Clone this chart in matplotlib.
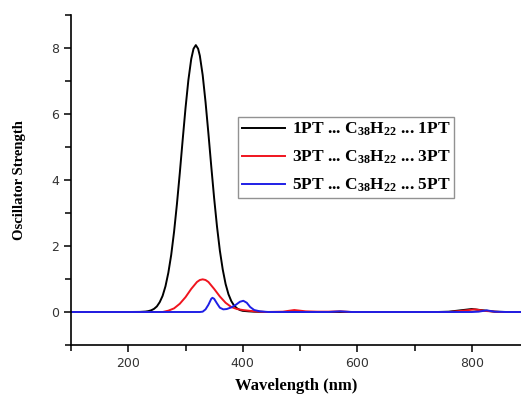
import matplotlib
matplotlib.use("Agg")
import matplotlib.pyplot as plt
from matplotlib.ticker import MultipleLocator

plt.rcParams["mathtext.default"] = "regular"

# wavelength (nm) / oscillator strength
wl_1pt = [100, 200, 220, 230, 235, 240, 245, 250, 255, 260, 265, 270, 275, 280,
          285, 290, 295, 300, 305, 310, 314, 318, 322, 325, 330, 335, 340, 345,
          350, 355, 360, 365, 370, 375, 380, 385, 390, 395, 400, 410, 420, 440,
          740, 760, 780, 800, 820, 840, 860, 900]
os_1pt = [0, 0, 0.003, 0.013, 0.026, 0.051, 0.095, 0.17, 0.30, 0.49, 0.78, 1.19,
          1.73, 2.43, 3.27, 4.21, 5.21, 6.18, 7.03, 7.67, 7.98, 8.09, 7.98, 7.77,
          7.18, 6.36, 5.41, 4.41, 3.45, 2.59, 1.86, 1.29, 0.85, 0.54, 0.33, 0.19,
          0.11, 0.06, 0.035, 0.02, 0.01, 0, 0, 0.01, 0.05, 0.09, 0.05, 0.01, 0, 0]

wl_3pt = [100, 260, 270, 280, 290, 300, 310, 320, 325, 330, 335, 340, 350, 360,
          370, 380, 390, 400, 410, 420, 440, 470, 490, 510, 530, 550, 570, 590,
          760, 780, 805, 825, 850, 900]
os_3pt = [0, 0, 0.04, 0.11, 0.25, 0.45, 0.70, 0.91, 0.97, 0.99, 0.97, 0.91,
          0.70, 0.47, 0.28, 0.15, 0.09, 0.06, 0.04, 0.02, 0, 0.01, 0.06, 0.02,
          0.01, 0.01, 0.02, 0, 0, 0.03, 0.08, 0.03, 0, 0]

wl_5pt = [100, 325, 330, 335, 340, 345, 347, 350, 355, 360, 366, 372, 380, 388,
          395, 401, 407, 413, 420, 430, 445, 550, 570, 590, 800, 812, 826, 840,
          860, 900]
os_5pt = [0, 0, 0.01, 0.08, 0.22, 0.40, 0.43, 0.40, 0.26, 0.13, 0.08, 0.09,
          0.14, 0.22, 0.31, 0.34, 0.28, 0.15, 0.06, 0.02, 0, 0, 0.02, 0, 0,
          0.01, 0.05, 0.01, 0, 0]

labels = [r"1PT ... C$_{38}$H$_{22}$ ... 1PT",
          r"3PT ... C$_{38}$H$_{22}$ ... 3PT",
          r"5PT ... C$_{38}$H$_{22}$ ... 5PT"]

fig = plt.figure(figsize=(5.21, 3.97), dpi=100)
ax = fig.add_axes([0.1363, 0.131, 0.8637, 0.831])

ax.plot(wl_1pt, os_1pt, color="black", lw=1.4, label=labels[0])
ax.plot(wl_3pt, os_3pt, color="#f0141e", lw=1.4, label=labels[1])
ax.plot(wl_5pt, os_5pt, color="#1f1fe6", lw=1.4, label=labels[2])

ax.set_xlim(100, 886)
ax.set_ylim(-1, 9)
ax.xaxis.set_major_locator(MultipleLocator(200))
ax.xaxis.set_minor_locator(MultipleLocator(100))
ax.yaxis.set_major_locator(MultipleLocator(2))
ax.yaxis.set_minor_locator(MultipleLocator(1))
ax.tick_params(which="both", direction="out", width=1.1, colors="black",
               labelcolor="#333333", labelsize=9)
ax.tick_params(which="major", length=5)
ax.tick_params(which="minor", length=4)
for side in ("top", "right"):
    ax.spines[side].set_visible(False)
for side in ("left", "bottom"):
    ax.spines[side].set_linewidth(1.2)

ax.set_xlabel("Wavelength (nm)", labelpad=6, family="Liberation Serif",
              weight="bold", size=12)
ax.set_ylabel("Oscillator Strength", labelpad=18, family="Liberation Serif",
              weight="bold", size=10.5)

leg = ax.legend(loc="upper left", bbox_to_anchor=(0.457, 0.705),
                bbox_transform=fig.transFigure, borderaxespad=0,
                prop=dict(family="Liberation Serif", weight="bold", size=12.5),
                fancybox=False, handlelength=2.5, handletextpad=0.4,
                labelspacing=0.62, borderpad=0.2)
leg.get_frame().set_edgecolor("#777777")
leg.get_frame().set_linewidth(1.0)

fig.savefig("out.png", dpi=100)
